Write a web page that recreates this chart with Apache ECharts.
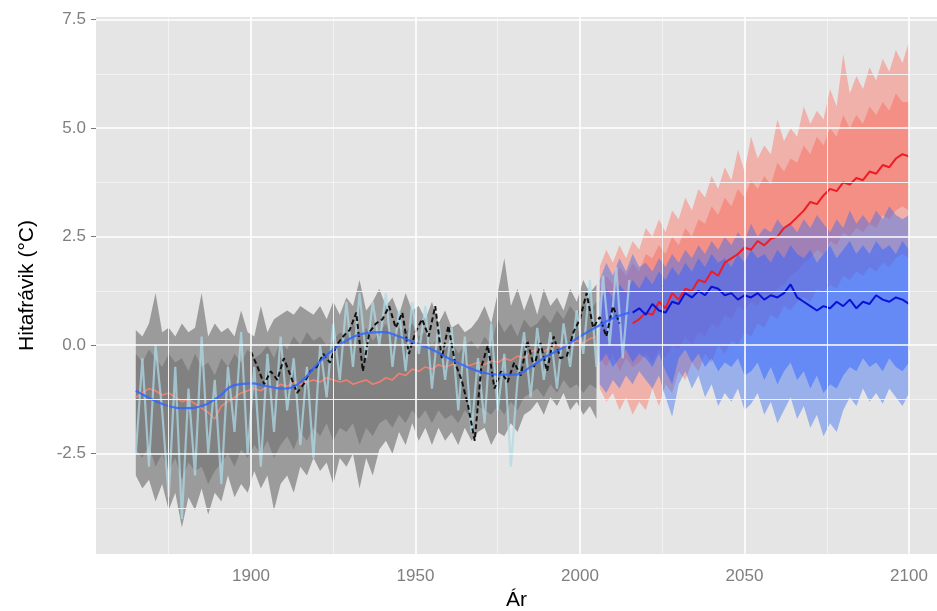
<!DOCTYPE html>
<html>
<head>
<meta charset="utf-8">
<title>Hitafrávik</title>
<script src="https://cdn.jsdelivr.net/npm/echarts@6.0.0/dist/echarts.min.js"></script>
<style>
  html, body { margin: 0; padding: 0; background: #fff; }
  #chart { width: 937px; height: 611px; }
</style>
</head>
<body>
<div id="chart"></div>
<script>
function yearRange(from, to, step) {
    let a = [];
    for (let y = from; y <= to; y += step) a.push(y);
    return a;
}

// ártöl
const histYears = yearRange(1865, 2005, 2)   // líkön, sögulegt
const futYears = yearRange(2006, 2100, 2)    // sviðsmyndir
const obsYears = yearRange(1865, 2015, 2)    // mælingar (ljósblá)
const dashYears = yearRange(1900, 2012, 2)   // mælingar (svört)
const smoothYears = yearRange(1865, 2015, 5) // jöfnuð lína
const meanYears = yearRange(2016, 2100, 2)   // meðaltöl sviðsmynda

// ás-merki
const xTicks = [1900, 1950, 2000, 2050, 2100]
const xMinor = [1875, 1925, 1975, 2025, 2075]
const yTicks = [-2.5, 0, 2.5, 5, 7.5]
const yMinor = [-3.75, -1.25, 1.25, 3.75, 6.25]

// gráa bilið (sögulegt)
const grayOuterHi = [0.35, 0.2, 0.5, 1.2, 0.3, 0.4, 0.2, 0.5, 0.3, 0.4,
    1.2, 0.2, 0.5, 0.3, 0.4, 0.2, 0.8, 0.3, 0.2, 0.9,
    0.3, 0.6, 0.7, 0.8, 0.7, 0.9, 0.8, 0.7, 0.9, 0.6,
    1.0, 0.7, 1.1, 0.9, 1.5, 0.8, 1.0, 1.3, 0.9, 1.1,
    0.7, 1.2, 0.8, 0.9, 0.6, 1.0, 0.5, 0.8, 0.4, 0.5,
    0.3, 0.4, 0.6, 0.9, 0.5, 1.2, 2.0, 0.9, 1.3, 0.8,
    1.2, 0.7, 1.3, 0.9, 1.1, 0.8, 1.3, 1.0, 1.5, 1.2, 1.4]
const grayOuterLo = [-3.0, -3.3, -3.1, -3.6, -3.2, -3.8, -3.4, -4.2, -3.5, -3.8,
    -3.3, -3.9, -3.4, -3.6, -3.0, -3.5, -3.2, -3.4, -2.9, -3.3,
    -3.0, -3.8, -3.2, -3.0, -3.4, -2.8, -3.0, -2.6, -2.9, -2.7,
    -3.2, -2.6, -2.8, -2.5, -3.3, -2.6, -3.0, -2.4, -2.2, -2.5,
    -2.0, -2.3, -1.8, -2.2, -1.9, -2.3, -1.9, -2.2, -2.0, -2.3,
    -1.9, -2.2, -2.0, -1.9, -2.3, -2.0, -2.1, -1.8, -2.0, -1.6,
    -1.5, -1.3, -1.6, -1.2, -1.4, -1.1, -1.5, -1.3, -1.6, -1.4, -1.7]
const grayInnerHi = [-0.2, -0.4, -0.1, -0.3, -0.5, -0.2, -0.4, -0.3, -0.6, -0.2,
    -0.5, -0.4, -0.7, -0.3, -0.5, -0.2, -0.4, -0.1, -0.3, -0.2,
    0.0, -0.3, 0.1, -0.1, 0.2, 0.0, 0.3, 0.1, 0.2, 0.0,
    0.1, 0.3, 0.2, 0.5, 0.2, 0.4, 0.1, 0.3, 0.5, 0.2,
    0.4, 0.3, 0.5, 0.2, 0.3, 0.0, 0.2, -0.1, 0.1, -0.2,
    0.0, 0.1, -0.1, 0.2, 0.0, 0.6, 0.3, 0.5, 0.2, 0.6,
    0.4, 0.5, 0.7, 0.5, 0.8, 0.6, 0.9, 0.7, 1.0, 0.8, 1.0]
const grayInnerLo = [-2.4, -2.6, -2.3, -2.8, -2.5, -2.9, -2.6, -3.1, -2.7, -2.9,
    -2.8, -3.2, -2.9, -2.7, -2.5, -2.8, -2.4, -2.6, -2.3, -2.5,
    -2.2, -2.6, -2.3, -2.1, -2.4, -2.0, -2.2, -1.9, -2.1, -1.8,
    -2.2, -1.9, -2.0, -1.8, -2.3, -1.9, -2.1, -1.8, -1.7, -1.9,
    -1.6, -1.8, -1.5, -1.7, -1.5, -1.8, -1.5, -1.7, -1.6, -1.8,
    -1.5, -1.7, -1.4, -1.5, -1.6, -1.4, -1.6, -1.3, -1.5, -1.2,
    -1.1, -1.0, -1.2, -0.9, -1.1, -0.8, -1.0, -0.9, -1.1, -0.9, -1.0]
const histMean = [-1.2, -1.1, -1.0, -1.05, -1.15, -1.1, -1.2, -1.3, -1.25, -1.35,
    -1.45, -1.55, -1.7, -1.4, -1.3, -1.2, -1.1, -1.05, -1.0, -1.05,
    -0.95, -1.0, -0.9, -0.95, -0.85, -0.9, -0.85, -0.8, -0.85, -0.75,
    -0.8, -0.85, -0.8, -0.9, -0.85, -0.8, -0.9, -0.85, -0.75, -0.8,
    -0.65, -0.7, -0.55, -0.6, -0.5, -0.55, -0.45, -0.5, -0.45, -0.4,
    -0.5, -0.45, -0.4, -0.45, -0.35, -0.4, -0.3, -0.35, -0.25, -0.3,
    -0.15, -0.1, -0.15, -0.05, 0.0, -0.05, 0.05, 0.1, 0.05, 0.15, 0.2]

// mælingar
const obsLight = [-2.5, -0.3, -2.8, 0.0, -1.5, -3.5, -0.5, -4.0, -1.0, -3.0,
    0.2, -2.5, -0.8, -3.2, -0.5, -2.0, 0.3, -2.5, -0.5, -2.8,
    -0.2, -2.0, 0.2, -1.5, -0.3, -2.3, -0.5, -2.6, 0.0, -1.2,
    0.5, -0.8, 1.0, -0.5, 1.2, -0.3, 1.0, 0.0, 1.2, -0.5,
    0.8, -0.6, 1.0, -0.2, 0.9, -1.0, 0.5, -0.8, 0.4, -1.5,
    0.2, -2.0, -0.3, -1.8, 0.5, -1.5, -0.2, -2.8, -0.8, 0.3,
    -1.2, 0.4, -0.8, 0.3, -1.0, 0.5, -0.5, 0.8, -0.2, 1.5,
    -0.5, 1.6, 0.0, 1.8, -0.3, 1.5]
const obsDash = [-0.15, -0.5, -0.9, -0.6, -0.8, -0.3, -0.7, -1.1, -0.9, -0.6,
    -0.5, -0.2, -0.4, 0.0, 0.2, 0.35, 0.75, -0.6, 0.3, 0.5,
    0.6, 0.9, 0.4, 0.75, -0.2, 0.3, 0.6, 0.2, 0.9, -0.3,
    0.45, -0.4, -0.8, -1.4, -2.2, -0.5, 0.0, -1.0, -0.6, -0.85,
    -0.4, -0.7, 0.1, -0.5, 0.05, -0.6, 0.2, -0.3, -0.25, 0.3,
    0.6, 1.2, 0.4, 0.65, 0.2, 0.9, 0.5]
const obsSmooth = [-1.05, -1.25, -1.4, -1.45, -1.4, -1.2, -0.92, -0.88,
    -0.95, -1.0, -0.85, -0.45, -0.1, 0.15, 0.28, 0.3,
    0.2, 0.05, -0.1, -0.3, -0.48, -0.62, -0.68, -0.68,
    -0.5, -0.25, -0.05, 0.2, 0.42, 0.62, 0.75]

// há sviðsmynd (rauð)
const redOuterHi = [1.8, 2.2, 1.9, 2.3, 2.0, 2.4, 2.2, 2.7, 2.5, 2.9,
    2.6, 3.1, 2.9, 3.4, 3.1, 3.6, 3.4, 3.9, 3.6, 4.1,
    3.8, 4.5, 4.0, 4.8, 4.3, 4.6, 4.4, 5.2, 4.7, 5.0,
    4.8, 5.5, 5.1, 5.4, 5.2, 5.9, 5.5, 6.7, 5.8, 6.2,
    5.9, 6.4, 6.1, 6.6, 6.3, 6.8, 6.5, 7.0]
const redOuterLo = [-1.0, -1.3, -1.1, -1.5, -1.2, -1.6, -1.3, -1.5, -1.0, -1.4,
    -0.9, -1.1, -0.6, -0.8, -0.4, -0.6, -0.2, -0.4, 0.0, -0.2,
    0.1, 0.0, 0.3, 0.2, 0.5, 0.4, 0.7, 0.6, 0.9, 0.8,
    1.0, 1.1, 1.0, 1.3, 1.2, 1.4, 1.3, 1.6, 1.5, 1.7,
    1.6, 1.8, 1.7, 1.9, 1.8, 2.0, 2.1, 2.0]
const redInnerHi = [1.3, 1.6, 1.4, 1.8, 1.6, 1.9, 1.7, 2.1, 2.0, 2.3,
    2.1, 2.5, 2.3, 2.7, 2.5, 2.9, 2.8, 3.2, 3.0, 3.4,
    3.2, 3.6, 3.4, 3.8, 3.6, 3.9, 3.7, 4.2, 4.0, 4.3,
    4.2, 4.6, 4.4, 4.8, 4.6, 5.0, 4.8, 5.3, 5.0, 5.3,
    5.1, 5.5, 5.3, 5.6, 5.4, 5.8, 5.6, 5.6]
const redInnerLo = [-0.3, -0.5, -0.2, -0.6, -0.3, -0.5, -0.4, -0.2, -0.4, -0.1,
    -0.3, 0.0, -0.1, 0.2, 0.0, 0.3, 0.2, 0.5, 0.4, 0.7,
    0.6, 0.9, 0.8, 1.0, 0.9, 1.2, 1.1, 1.3, 1.4, 1.6,
    1.7, 1.9, 2.0, 2.2, 2.1, 2.4, 2.3, 2.6, 2.5, 2.7,
    2.6, 2.8, 2.7, 3.0, 2.9, 3.1, 3.2, 3.1]
const redMean = [0.5, 0.6, 0.75, 0.7, 1.0, 0.85, 1.2, 1.05, 1.3, 1.25,
    1.5, 1.45, 1.7, 1.6, 1.9, 2.0, 2.1, 2.25, 2.2, 2.4,
    2.3, 2.45, 2.5, 2.7, 2.8, 2.95, 3.1, 3.3, 3.25, 3.45,
    3.6, 3.55, 3.75, 3.7, 3.85, 3.8, 4.0, 3.95, 4.15, 4.1,
    4.3, 4.4, 4.35]

// lág sviðsmynd (blá)
const blueOuterHi = [1.5, 1.9, 1.6, 2.0, 1.7, 2.1, 1.8, 1.9, 1.7, 2.0,
    1.8, 2.1, 1.9, 2.2, 2.0, 2.3, 2.1, 2.4, 2.2, 2.5,
    2.3, 2.6, 2.4, 2.8, 2.5, 2.7, 2.6, 2.9, 2.7, 2.8,
    2.6, 2.9, 2.7, 3.0, 2.8, 2.6, 2.9, 2.7, 3.1, 2.8,
    3.0, 2.8, 3.1, 2.9, 3.2, 3.0, 2.9, 3.0]
const blueOuterLo = [-0.9, -1.1, -0.8, -1.0, -0.7, -0.9, -0.6, -0.8, -1.0, -0.7,
    -1.2, -1.65, -0.9, -0.6, -1.0, -0.7, -1.2, -0.9, -1.4, -1.1,
    -1.3, -1.0, -1.5, -1.35, -1.1, -1.6, -1.3, -1.8, -1.5, -1.2,
    -1.7, -1.4, -1.9, -1.6, -2.1, -1.8, -2.0, -1.5, -1.2, -1.4,
    -1.0, -1.3, -1.1, -1.35, -1.0, -1.2, -1.4, -1.1]
const blueInnerHi = [1.0, 1.3, 1.1, 1.4, 1.2, 1.5, 1.3, 1.6, 1.4, 1.7,
    1.5, 1.8, 1.6, 1.9, 1.7, 2.0, 1.8, 2.1, 1.9, 2.0,
    1.8, 2.1, 1.9, 2.2, 2.0, 2.1, 1.9, 2.2, 2.0, 2.3,
    2.1, 2.0, 2.2, 1.9, 2.1, 2.3, 2.0, 2.2, 2.4, 2.1,
    2.3, 2.1, 2.4, 2.2, 2.3, 2.1, 2.4, 2.2]
const blueInnerLo = [-0.4, -0.2, -0.5, -0.3, -0.1, -0.4, -0.2, -0.3, -0.5, -0.2,
    -0.6, -0.9, -0.3, -0.1, -0.4, -0.2, -0.5, -0.3, -0.6, -0.4,
    -0.5, -0.3, -0.7, -0.6, -0.4, -0.8, -0.5, -0.9, -0.6, -0.4,
    -0.8, -0.6, -1.0, -0.7, -1.1, -0.9, -1.0, -0.7, -0.5, -0.6,
    -0.3, -0.5, -0.4, -0.6, -0.3, -0.5, -0.6, -0.4]
const blueMean = [0.75, 0.85, 0.7, 0.95, 0.8, 0.75, 1.0, 0.95, 1.2, 1.1,
    1.25, 1.15, 1.35, 1.3, 1.15, 1.2, 1.05, 1.15, 1.1, 1.2,
    1.05, 1.15, 1.1, 1.2, 1.4, 1.1, 1.0, 0.9, 0.8, 0.9,
    0.85, 1.0, 0.9, 1.05, 0.85, 1.0, 0.95, 1.15, 1.05, 1.0,
    1.1, 1.05, 0.95]

function pairs(xs, ys) {
    return xs.map((x, i) => [x, ys[i]])
}

// bil sem einn marghyrningur
function band(name, xs, lo, hi, color) {
    return {
        name: name,
        type: 'custom',
        silent: true,
        data: xs.map((x, i) => [x, lo[i], hi[i]]),
        encode: { x: 0, y: [1, 2] },
        renderItem: function (params, api) {
            if (params.dataIndex !== 0) return null
            let pts = []
            for (let i = 0; i < xs.length; i++) pts.push(api.coord([xs[i], hi[i]]))
            for (let i = xs.length - 1; i >= 0; i--) pts.push(api.coord([xs[i], lo[i]]))
            return {
                type: 'polygon',
                shape: { points: pts },
                style: { fill: color, stroke: null }
            }
        }
    }
}

function line(name, data, color, width, extra) {
    return Object.assign({
        name: name,
        type: 'line',
        data: data,
        symbol: 'none',
        silent: true,
        lineStyle: { color: color, width: width },
        emphasis: { disabled: true }
    }, extra || {})
}

let myChart = echarts.init(document.getElementById('chart'))
let labelColor = '#7f7f7f'
let option = {
    animation: false,
    textStyle: { fontFamily: 'Liberation Sans' },
    grid: {
        left: 96, top: 17, right: 0, bottom: 57,
        outerBoundsMode: 'none',
        show: true,
        backgroundColor: '#e5e5e5',
        borderWidth: 0
    },
    xAxis: {
        type: 'value',
        min: 1852.9,
        max: 2108.5,
        name: 'Ár',
        nameLocation: 'middle',
        nameGap: 36,
        nameTextStyle: { color: '#000', fontSize: 21 },
        axisLine: { show: false },
        axisTick: { show: true, length: 5, customValues: xTicks, lineStyle: { color: '#777' } },
        axisLabel: {
            customValues: xTicks, color: labelColor, fontSize: 17, margin: 14,
            formatter: function (v) { return String(v) }
        },
        splitLine: { show: false }
    },
    yAxis: {
        type: 'value',
        min: -4.81,
        max: 7.56,
        name: 'Hitafrávik (°C)',
        nameLocation: 'middle',
        nameGap: 58,
        nameTextStyle: { color: '#000', fontSize: 21 },
        axisLine: { show: false },
        axisTick: { show: true, length: 5, customValues: yTicks, lineStyle: { color: '#777' } },
        axisLabel: {
            customValues: yTicks, color: labelColor, fontSize: 17, margin: 10,
            formatter: function (v) { return v.toFixed(1) }
        },
        splitLine: { show: false }
    },
    series: [
        {
            type: 'line', data: [], silent: true, z: 1,
            markLine: {
                silent: true, symbol: ['none', 'none'], label: { show: false }, animation: false,
                emphasis: { disabled: true },
                lineStyle: { color: '#f2f2f2', width: 1, type: 'solid' },
                data: xMinor.map(v => ({ xAxis: v })).concat(yMinor.map(v => ({ yAxis: v })))
            }
        },
        {
            type: 'line', data: [], silent: true, z: 1,
            markLine: {
                silent: true, symbol: ['none', 'none'], label: { show: false }, animation: false,
                emphasis: { disabled: true },
                lineStyle: { color: '#ffffff', width: 1.6, type: 'solid' },
                data: xTicks.map(v => ({ xAxis: v })).concat(yTicks.map(v => ({ yAxis: v })))
            }
        },
        band('grátt ytra', histYears, grayOuterLo, grayOuterHi, 'rgba(95,95,95,0.55)'),
        band('grátt innra', histYears, grayInnerLo, grayInnerHi, 'rgba(70,70,70,0.3)'),
        band('rautt ytra', futYears, redOuterLo, redOuterHi, 'rgba(255,100,80,0.4)'),
        band('rautt innra', futYears, redInnerLo, redInnerHi, 'rgba(255,80,70,0.35)'),
        band('blátt ytra', futYears, blueOuterLo, blueOuterHi, 'rgba(60,110,240,0.45)'),
        band('blátt innra', futYears, blueInnerLo, blueInnerHi, 'rgba(50,100,255,0.5)'),
        line('meðaltal líkana', pairs(histYears, histMean), '#f08070', 1.6),
        line('mælingar', pairs(obsYears, obsLight), 'rgba(173,216,230,0.75)', 2.2),
        line('mælingar 2', pairs(dashYears, obsDash), '#111', 2, {
            lineStyle: { color: '#111', width: 2, type: [5, 3] }
        }),
        line('jöfnuð', pairs(smoothYears, obsSmooth), 'rgba(51,102,255,0.85)', 2.2, { smooth: true }),
        line('há sviðsmynd', pairs(meanYears, redMean), '#ee1c24', 2),
        line('lág sviðsmynd', pairs(meanYears, blueMean), '#0a12d6', 2)
    ]
}
myChart.setOption(option, true)
window.addEventListener('resize', function () {
    myChart.resize()
})
</script>
</body>
</html>
